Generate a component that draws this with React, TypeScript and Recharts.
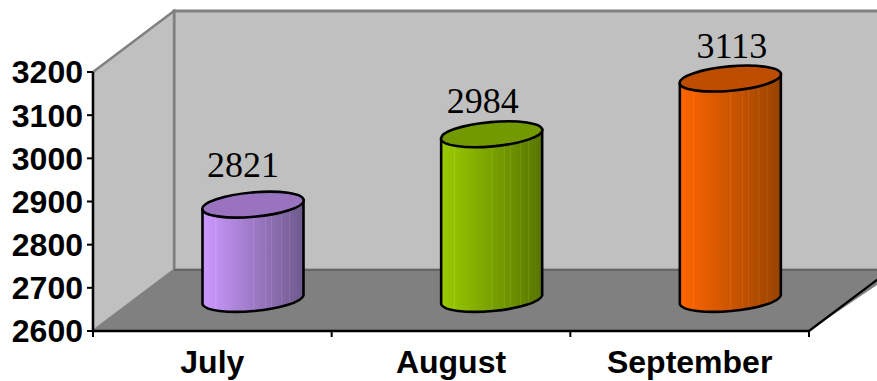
import { BarChart, Bar, XAxis, YAxis, Cell, LabelList, usePlotArea } from 'recharts';

const months = ['July', 'August', 'September'];
const totals = [2821, 2984, 3113];
const yTicks = [2600, 2700, 2800, 2900, 3000, 3100, 3200];

const sideLeft = ['#CC99FF', '#99CC00', '#FF6600'];
const sideRight = ['#6E5A8C', '#587500', '#964300'];
const capFill = ['#9973C0', '#739900', '#BF4D00'];

// lighter streaks running down each cylinder, as a fraction of its width
const streaks = [0.13, 0.5, 0.62, 0.68, 0.78, 0.86];

const chartData = months.map((month, i) => ({ month, total: totals[i] }));

const WIDTH = 877;
const HEIGHT = 381;

// oblique depth of the floor and side wall
const DEPTH_X = 81;
const DEPTH_Y = 61;
const BAR_SHIFT_X = 40.5;
const BAR_SHIFT_Y = 26.5;
const BAR_WIDTH = 101;
const CAP_TILT = 4.5;
const CAP_RY = 12.2;
const FLOOR_LIP = 90;

// label placement around the cap, one per month
const labelDx = [-10, -9, 1.5];
const labelDy = [-59, -52, -52];

const hexToRgb = (hex: string) => [1, 3, 5].map((p) => parseInt(hex.slice(p, p + 2), 16));

const mix = (a: string, b: string, t: number, lift = 0) => {
  const ca = hexToRgb(a);
  const cb = hexToRgb(b);
  const out = ca.map((v, i) => Math.min(255, Math.round(v + (cb[i] - v) * t + lift)));
  return `rgb(${out[0]},${out[1]},${out[2]})`;
};

function CylinderGradients() {
  return (
    <defs>
      {months.map((m, i) => {
        const stops: { o: number; c: string }[] = [{ o: 0, c: mix(sideLeft[i], sideRight[i], 0) }];
        streaks.forEach((s) => {
          stops.push({ o: s - 0.004, c: mix(sideLeft[i], sideRight[i], s) });
          stops.push({ o: s, c: mix(sideLeft[i], sideRight[i], s, 13) });
          stops.push({ o: s + 0.006, c: mix(sideLeft[i], sideRight[i], s, 13) });
          stops.push({ o: s + 0.01, c: mix(sideLeft[i], sideRight[i], s) });
        });
        stops.push({ o: 1, c: mix(sideLeft[i], sideRight[i], 1) });
        return (
          <linearGradient key={m} id={`side-${i}`} x1="0" y1="0" x2="1" y2="0">
            {stops.map((s, k) => (
              <stop key={k} offset={s.o} stopColor={s.c} />
            ))}
          </linearGradient>
        );
      })}
    </defs>
  );
}

// Back wall, side wall and floor, hung off the plot area
function Room() {
  const plot = usePlotArea();
  if (!plot) return null;
  const { x, y, width, height } = plot;
  const bottom = y + height;
  const right = x + width;
  const step = width / months.length;
  const ticks = [0, 1, 2, 3].map((i) => x + step * i);
  return (
    <g>
      <polygon
        points={`${x + DEPTH_X},${y - DEPTH_Y} ${right + DEPTH_X},${y - DEPTH_Y} ${right + DEPTH_X},${bottom - DEPTH_Y} ${x + DEPTH_X},${bottom - DEPTH_Y}`}
        fill="#C0C0C0"
        stroke="#808080"
        strokeWidth={3}
      />
      <polygon
        points={`${x},${y} ${x + DEPTH_X},${y - DEPTH_Y} ${x + DEPTH_X},${bottom - DEPTH_Y} ${x},${bottom}`}
        fill="#C0C0C0"
        stroke="#808080"
        strokeWidth={2.4}
      />
      <polygon
        points={`${x},${bottom} ${x + DEPTH_X},${bottom - DEPTH_Y} ${right + FLOOR_LIP},${bottom - DEPTH_Y} ${right},${bottom}`}
        fill="#808080"
      />
      <line x1={x + DEPTH_X} y1={bottom - DEPTH_Y} x2={WIDTH} y2={bottom - DEPTH_Y} stroke="#666666" strokeWidth={2} />
      <line x1={right} y1={bottom} x2={right + DEPTH_X} y2={bottom - DEPTH_Y} stroke="#000" strokeWidth={2.2} />
      <line x1={x} y1={bottom} x2={right} y2={bottom} stroke="#000" strokeWidth={2.4} />
      {ticks.map((t) => (
        <line key={t} x1={t} y1={bottom} x2={t} y2={bottom + 6} stroke="#000" strokeWidth={2} />
      ))}
    </g>
  );
}

function Cylinder(props: any) {
  const { x, y, width, height, index } = props;
  const w = BAR_WIDTH;
  const left = x + (width - w) / 2 + BAR_SHIFT_X;
  const right = left + w;
  const leftTop = y - BAR_SHIFT_Y;
  const leftBottom = y + height - BAR_SHIFT_Y;
  const cx = left + w / 2;
  const cy = leftTop - CAP_TILT;
  const rx = w / 2 + 0.4;
  const angle = (Math.atan2(-2 * CAP_TILT, w) * 180) / Math.PI;
  return (
    <g>
      <path
        d={`M${left},${leftTop} L${left},${leftBottom} A${rx},${CAP_RY} ${angle} 0 0 ${right},${leftBottom - 2 * CAP_TILT} L${right},${leftTop - 2 * CAP_TILT} Z`}
        fill={`url(#side-${index})`}
        stroke="#000"
        strokeWidth={2.6}
        strokeLinejoin="round"
      />
      <ellipse
        cx={cx}
        cy={cy}
        rx={rx}
        ry={CAP_RY}
        transform={`rotate(${angle} ${cx} ${cy})`}
        fill={capFill[index]}
        stroke="#000"
        strokeWidth={2.6}
      />
    </g>
  );
}

function TotalLabel(props: any) {
  const { x, y, width, value, index } = props;
  return (
    <text
      x={x + width / 2 + BAR_SHIFT_X + labelDx[index]}
      y={y + labelDy[index]}
      textAnchor="middle"
      fontFamily="'Liberation Serif', serif"
      fontSize={36}
      fill="#000"
    >
      {value}
    </text>
  );
}

export default function App() {
  return (
    <div style={{ position: 'absolute', left: 0, top: 0, width: WIDTH, height: HEIGHT, background: '#fff' }}>
      <BarChart
        width={WIDTH}
        height={HEIGHT}
        data={chartData}
        margin={{ top: 72, right: 68, bottom: 0, left: 0 }}
        barSize={BAR_WIDTH}
      >
        <CylinderGradients />
        <Room />
        <XAxis
          dataKey="month"
          axisLine={false}
          tickLine={false}
          height={50}
          interval={0}
          tickMargin={13}
          tick={{ fontFamily: "'Liberation Sans', Arial, sans-serif", fontWeight: 700, fontSize: 32, fill: '#000' }}
        />
        <YAxis
          width={93}
          domain={[2600, 3200]}
          ticks={yTicks}
          interval={0}
          tickSize={6}
          tickMargin={4}
          axisLine={{ stroke: '#000', strokeWidth: 2.4 }}
          tickLine={{ stroke: '#000', strokeWidth: 2 }}
          tick={{ fontFamily: "'Liberation Sans', Arial, sans-serif", fontWeight: 700, fontSize: 32, fill: '#000' }}
        />
        <Bar dataKey="total" isAnimationActive={false} shape={<Cylinder />}>
          {chartData.map((d, i) => (
            <Cell key={d.month} fill={sideLeft[i]} />
          ))}
          <LabelList dataKey="total" content={<TotalLabel />} />
        </Bar>
      </BarChart>
    </div>
  );
}
